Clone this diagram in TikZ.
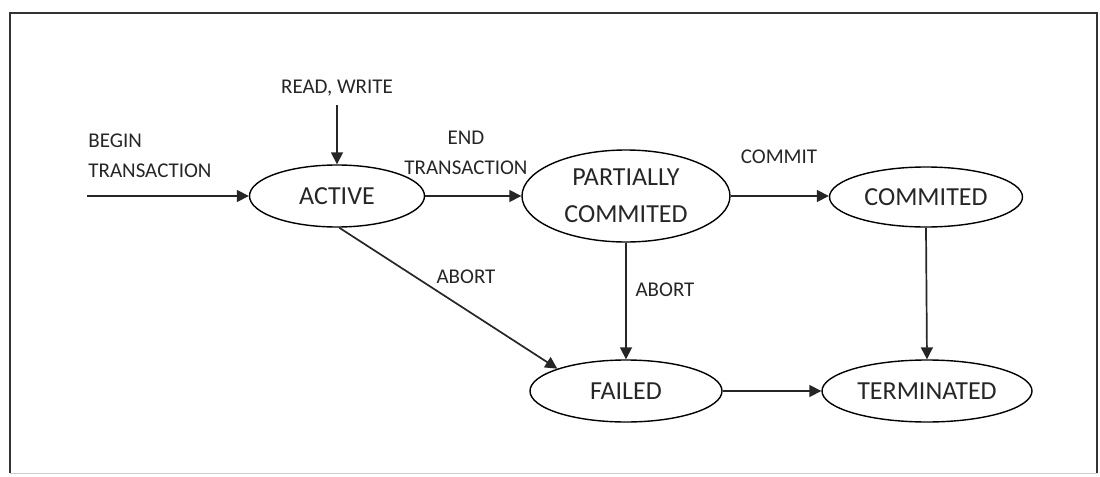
\documentclass[tikz,border=0pt]{standalone}
\usepackage{fontspec}
\setmainfont{Carlito}
\usetikzlibrary{shapes.geometric,arrows.meta}
\definecolor{txt}{HTML}{262626}
\tikzset{
  state/.style={ellipse, draw=black, line width=0.7pt, inner sep=0pt, align=center,
    font=\fontsize{13}{18.5}\selectfont, text=txt},
  lbl/.style={inner sep=0pt, font=\fontsize{10.5}{15}\selectfont, text=txt},
  arr/.style={line width=0.85pt, draw=black!85, -{Triangle[length=6pt,width=6pt]}},
  frame/.style={line width=1.2pt, draw=black!80}
}
\begin{document}
\begin{tikzpicture}[x=0.5pt,y=-0.5pt]
\useasboundingbox (0,0) rectangle (1100,477);
% frame
\coordinate (f1) at (10,473);
\coordinate (f2) at (10,13);
\coordinate (f3) at (1097,13);
\coordinate (f4) at (1097,473);
\draw[frame] (f1) -- (f2) -- (f3) -- (f4);
\draw[line width=0.5pt, draw=black!20] (f1) -- (f4);
% states
\node[state, minimum width=87.5pt, minimum height=31pt] (active) at (337,196) {ACTIVE};
\node[state, minimum width=104pt, minimum height=46pt] (pc) at (626,196) {PARTIALLY\\COMMITED};
\node[state, minimum width=96.5pt, minimum height=30pt] (comm) at (926,197) {COMMITED};
\node[state, minimum width=96pt, minimum height=31pt] (failed) at (626,391) {FAILED};
\node[state, minimum width=105pt, minimum height=31pt] (term) at (927,391) {TERMINATED};
% labels
\node[lbl] (rwl) at (337,88) {READ, WRITE};
\node[lbl, anchor=west, align=left] (bl) at (88,156) {BEGIN\\TRANSACTION};
\node[lbl, align=center] (el) at (466,153) {END\\TRANSACTION};
\node[lbl] (cl) at (779,157) {COMMIT};
\node[lbl] (a1) at (466,277) {ABORT};
\node[lbl] (a2) at (665,290) {ABORT};
% connectors
\coordinate (bs) at (87,196);
\coordinate (rs) at (337,105);
\draw[arr] (bs) -- (active.west);
\draw[arr] (rs) -- (active.north);
\draw[arr] (active.east) -- (pc.west);
\draw[arr] (pc.east) -- (comm.west |- pc.east);
\draw[arr] (pc.south) -- (failed.north);
\draw[arr] (comm.south) -- (term.north);
\draw[arr] (failed.east) -- (term.west);
\draw[arr] (active.-86) -- (failed.162);
\end{tikzpicture}
\end{document}
